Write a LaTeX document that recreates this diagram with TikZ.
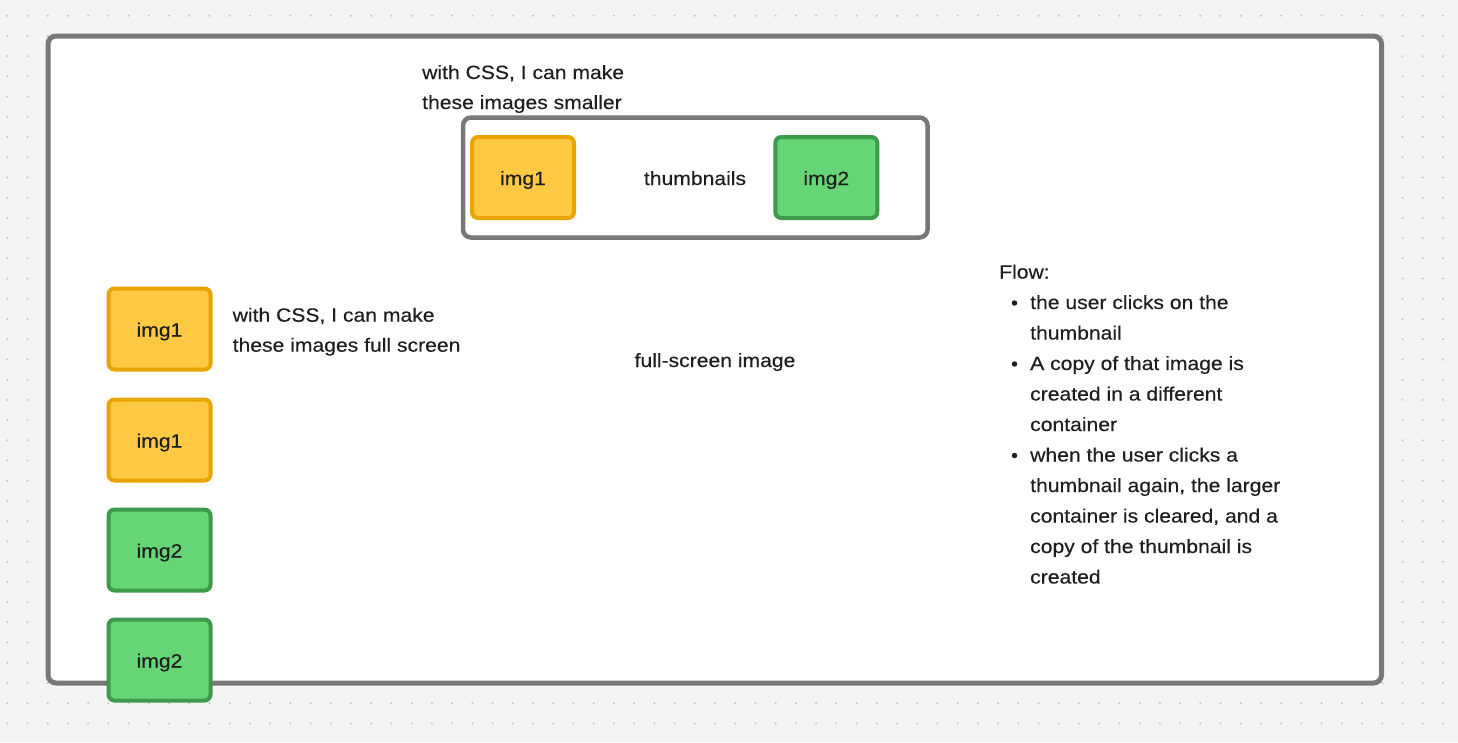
\documentclass[tikz,border=0pt]{standalone}
\usepackage{fontspec}
\setmainfont{Liberation Sans}[FakeStretch=1.1, FakeBold=0.25]
\definecolor{canvas}{HTML}{F4F4F4}
\definecolor{griddot}{HTML}{C4C4C4}
\definecolor{framegray}{HTML}{787878}
\definecolor{ink}{HTML}{1E1E1E}
\definecolor{amberfill}{HTML}{FFC943}
\definecolor{amberline}{HTML}{E9A400}
\definecolor{greenfill}{HTML}{66D575}
\definecolor{greenline}{HTML}{3E9A4B}
\tikzset{
  panel/.style={draw=framegray, fill=white, rounded corners=8pt, inner sep=0pt},
  imgbox/.style={rounded corners=6pt, line width=4pt, minimum width=102pt, minimum height=81pt,
    inner sep=0pt, text height=15pt, text depth=0pt, font=\fontsize{19.2}{22}\selectfont, text=ink},
  amber/.style={imgbox, draw=amberline, fill=amberfill},
  leaf/.style={imgbox, draw=greenline, fill=greenfill},
  label/.style={inner sep=0pt, anchor=base west, font=\fontsize{19.2}{22}\selectfont, text=ink},
  clabel/.style={label, anchor=base},
  bulletmark/.style={fill=ink, circle, inner sep=0pt, minimum size=5.5pt},
}
\begin{document}
\begin{tikzpicture}[x=1pt,y=-1pt]
\useasboundingbox (0,0) rectangle (1458,742);
% canvas with dot grid
\fill[canvas] (0,0) rectangle (1458,742);
\foreach \i in {0,...,71}{
  \foreach \j in {0,...,35}{
    \fill[griddot] (7.3+20.22*\i, 15.7+20.22*\j) circle (1.1pt);
  }
}
% outer page frame
\node[panel, line width=5pt, minimum width=1333.5pt, minimum height=647pt] (page) at (714.75,359.5) {};
% thumbnail strip
\node[panel, line width=4.5pt, minimum width=464.5pt, minimum height=120pt] (strip) at (695.25,177.5) {};
\node[amber] (t1) at (523,177.5) {img1};
\node[leaf] (t2) at (826.3,177.5) {img2};
\node[clabel] (stripname) at (695,185) {thumbnails};
% note above the strip
\node[label] (noteA1) at (422,79) {with CSS, I can make};
\node[label] (noteA2) at (422,109) {these images smaller};
% full-size column
\node[amber] (f1) at (159.5,329) {img1};
\node[amber] (f2) at (159.5,440) {img1};
\node[leaf] (f3) at (159.5,550) {img2};
\node[leaf] (f4) at (159.5,660) {img2};
\node[label] (noteB1) at (232.5,321.7) {with CSS, I can make};
\node[label] (noteB2) at (232.5,351.7) {these images full screen};
\node[clabel] (viewer) at (715,367) {full-screen image};
% flow notes
\node[label] (flow) at (999,278.5) {Flow:};
\node[bulletmark] (b1) at (1014.5,303) {};
\node[bulletmark] (b2) at (1014.5,364) {};
\node[bulletmark] (b3) at (1014.5,455.5) {};
\node[label] (l1) at (1030,309) {the user clicks on the};
\node[label] (l2) at (1030,339.5) {thumbnail};
\node[label] (l3) at (1030,370) {A copy of that image is};
\node[label] (l4) at (1030,400.5) {created in a different};
\node[label] (l5) at (1030,431) {container};
\node[label] (l6) at (1030,461.5) {when the user clicks a};
\node[label] (l7) at (1030,492) {thumbnail again, the larger};
\node[label] (l8) at (1030,522.5) {container is cleared, and a};
\node[label] (l9) at (1030,553) {copy of the thumbnail is};
\node[label] (l10) at (1030,583.5) {created};
\end{tikzpicture}
\end{document}
